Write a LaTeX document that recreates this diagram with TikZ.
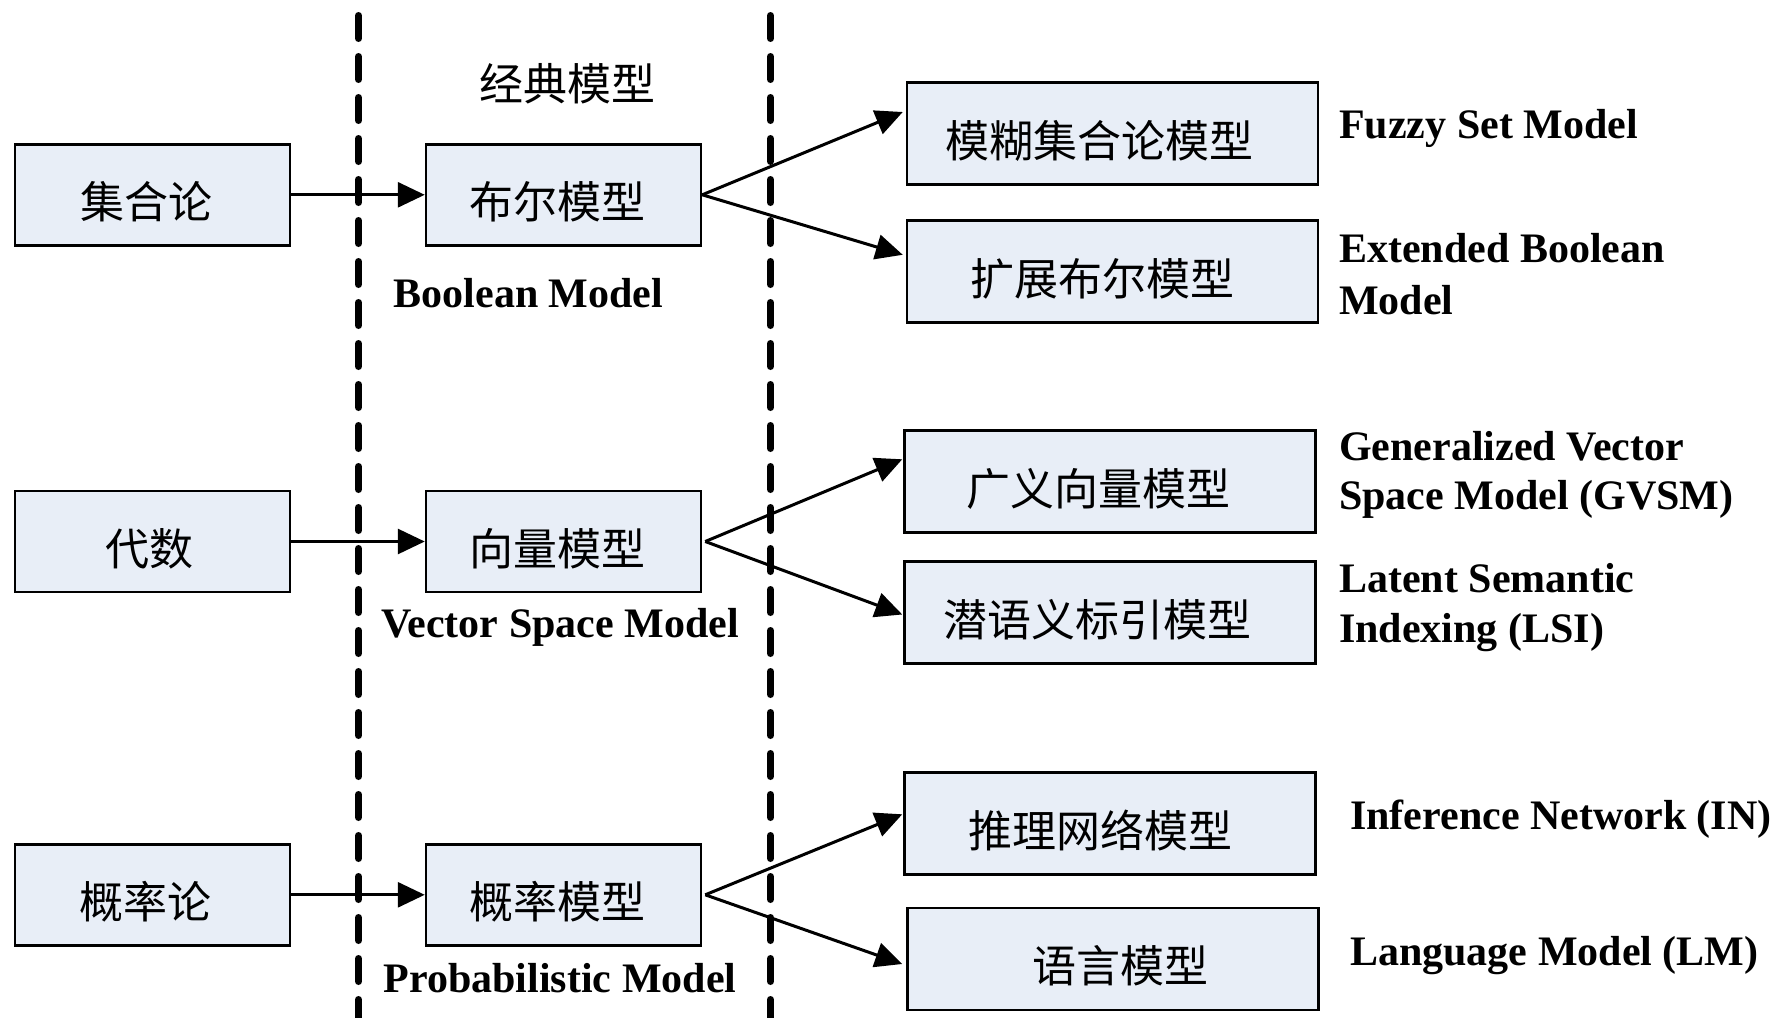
\documentclass[tikz,border=0pt]{standalone}
\usepackage{fontspec}
\setmainfont{Liberation Serif}
\newfontfamily\cjk{Noto Sans CJK SC}
\usetikzlibrary{arrows.meta,calc}
\definecolor{boxfill}{HTML}{E8EEF7}
\begin{document}
\begin{tikzpicture}[x=1pt,y=-1pt,
  box/.style={draw=black, line width=2.5pt, fill=boxfill, rectangle, inner sep=0pt, minimum height=101pt},
  lbox/.style={box, minimum width=275pt},
  rbox/.style={box, minimum width=411pt, minimum height=102pt},
  cn/.style={font=\cjk\fontsize{44pt}{44pt}\selectfont, text height=38.7pt, text depth=5.3pt, inner sep=0pt},
  en/.style={font=\fontsize{42pt}{50pt}\selectfont\bfseries, inner sep=0pt},
  dashline/.style={line width=7pt, line cap=round, dash pattern=on 23pt off 18pt},
  arr/.style={line width=3pt, -{Triangle[length=27pt,width=25pt]}},
]
\useasboundingbox (0,0) rectangle (1782,1017);
\fill[white] (0,0) rectangle (1782,1017);

% dashed separators
\draw[dashline] (358.5,15.5) -- (358.5,1030);
\draw[dashline] (770.5,15.5) -- (770.5,1030);

\node[cn] (title) at (567,83.5) {经典模型};

% left column
\node[lbox, label={[cn,xshift=-6pt,yshift=-7pt]center:集合论}] (l1) at (152.5,194.8) {};
\node[lbox, label={[cn,xshift=-3pt,yshift=-7pt]center:代数}] (l2) at (152.5,541.5) {};
\node[lbox, label={[cn,xshift=-7pt,yshift=-7pt]center:概率论}] (l3) at (152.5,894.8) {};

% middle column
\node[lbox, label={[cn,xshift=-6pt,yshift=-7pt]center:布尔模型}] (m1) at (563.5,194.8) {};
\node[lbox, label={[cn,xshift=-6pt,yshift=-7pt]center:向量模型}] (m2) at (563.5,541.5) {};
\node[lbox, label={[cn,xshift=-6pt,yshift=-7pt]center:概率模型}] (m3) at (563.5,894.8) {};

\node[en, anchor=base] (bm) at (528.5,307) {Boolean Model};
\node[en, anchor=base] (vsm) at (560,637) {Vector Space Model};
\node[en, anchor=base] (pm) at (560,992) {Probabilistic Model};

% right column
\node[rbox, label={[cn,xshift=-13pt,yshift=-7pt]center:模糊集合论模型}] (f1) at (1112.5,133.5) {};
\node[rbox, label={[cn,xshift=-10pt,yshift=-7pt]center:扩展布尔模型}] (f2) at (1112.5,271.5) {};
\node[rbox, label={[cn,xshift=-12pt,yshift=-7pt]center:广义向量模型}] (f3) at (1110,481.3) {};
\node[rbox, label={[cn,xshift=-13pt,yshift=-7pt]center:潜语义标引模型}] (f4) at (1110,612.5) {};
\node[rbox, label={[cn,xshift=-10pt,yshift=-7pt]center:推理网络模型}] (f5) at (1110,823.3) {};
\node[rbox, label={[cn,xshift=7pt,yshift=-7pt]center:语言模型}] (f6) at (1113,959) {};

% right labels (base anchor = baseline of last line)
\node[en, anchor=base west] (t1) at (1339,138) {Fuzzy Set Model};
\node[en, anchor=base west, align=left] (t2) at (1339,314) {Extended Boolean\\[2pt]Model};
\node[en, anchor=base west, align=left] (t3) at (1339,509) {Generalized Vector\\[-1.5pt]Space Model (GVSM)};
\node[en, anchor=base west, align=left] (t4) at (1339,642) {Latent Semantic\\Indexing (LSI)};
\node[en, anchor=base west] (t5) at (1350,829) {Inference Network (IN)};
\node[en, anchor=base west] (t6) at (1350,965) {Language Model (LM)};

% connectors
\draw[arr] (l1) -- (m1);
\draw[arr] (l2) -- (m2);
\draw[arr] (l3) -- (m3);

\draw[arr] (m1.east) -- ($(f1.west)+(-3,-21.5)$);
\draw[arr] (m1.east) -- ($(f2.west)+(-3,-16.7)$);
\draw[arr] ($(m2.east)+(3,0)$) -- ($(f3.west)+(-1,-22)$);
\draw[arr] ($(m2.east)+(3,0)$) -- ($(f4.west)+(-1,2)$);
\draw[arr] ($(m3.east)+(3,0)$) -- ($(f5.west)+(-1,-9)$);
\draw[arr] ($(m3.east)+(3,0)$) -- ($(f6.west)+(-4,5)$);
\end{tikzpicture}
\end{document}
